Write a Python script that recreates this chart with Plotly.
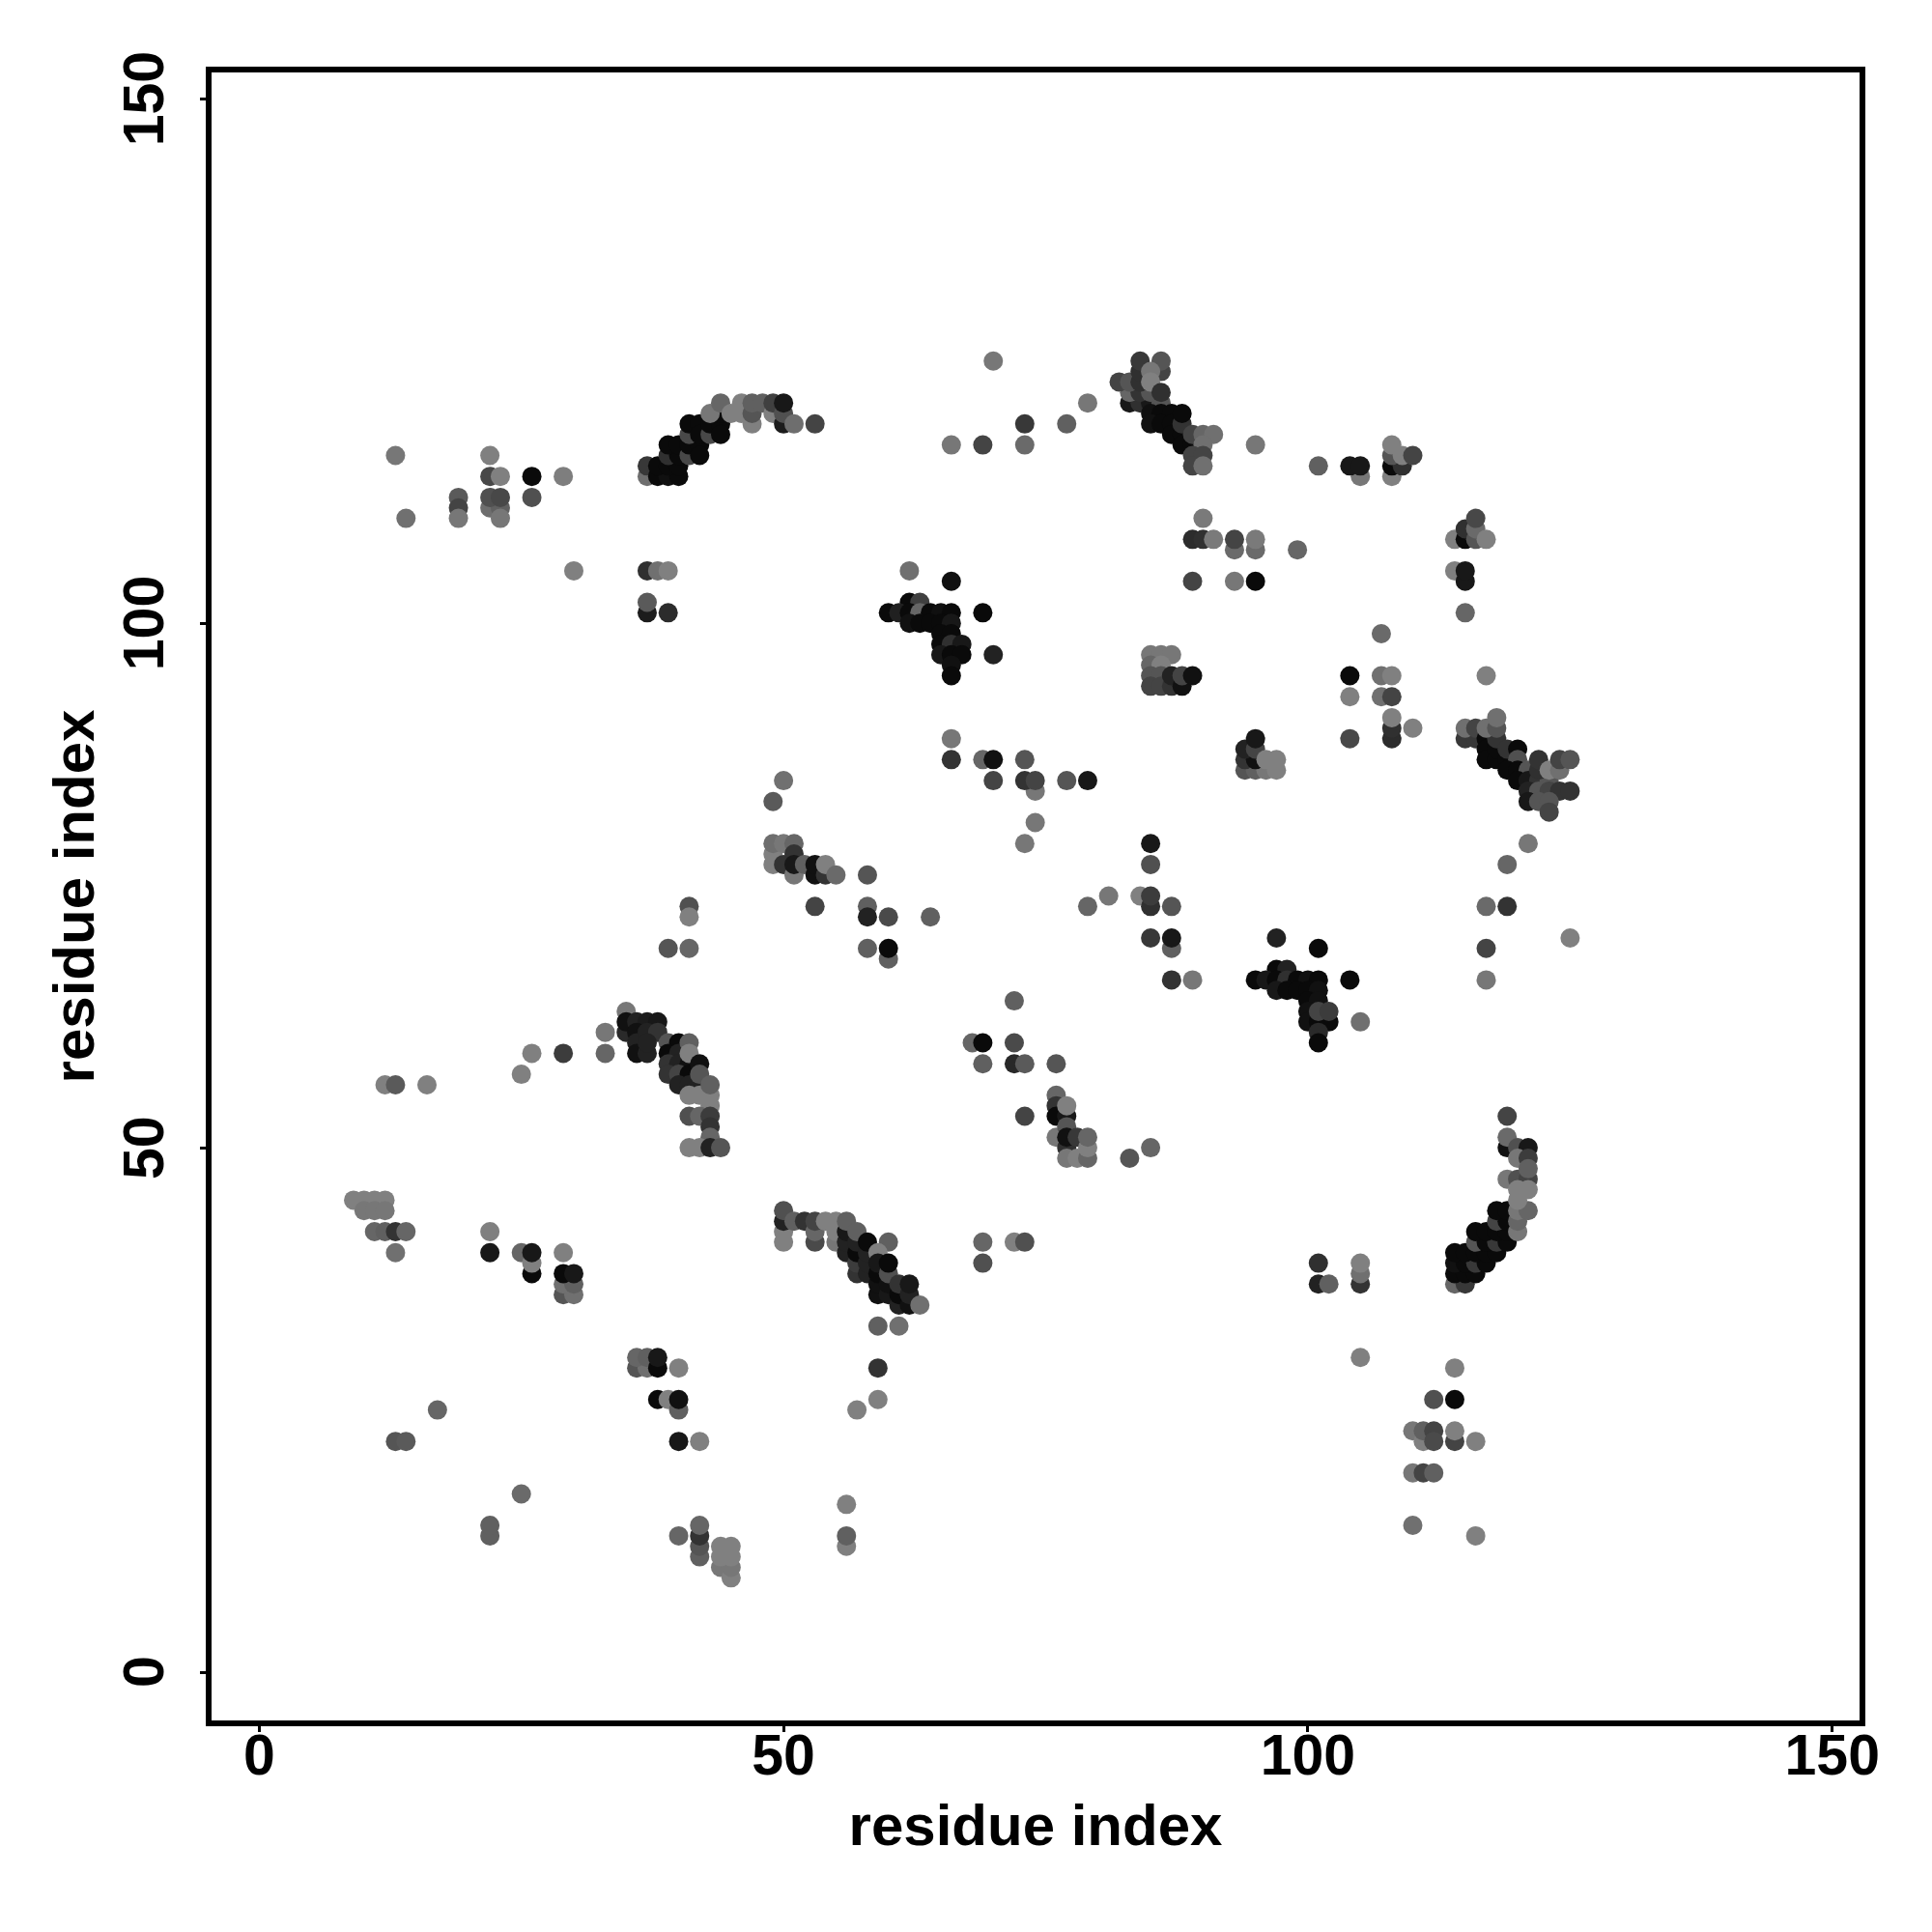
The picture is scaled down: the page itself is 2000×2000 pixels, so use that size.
import plotly.graph_objects as go

# Contacts: (residue i, residue j, grey level), in drawing order
contacts = [
(13,116,0x77),(14,110,0x70),(19,112,0x5a),(19,111,0x44),(19,110,0x77),(22,116,0x80),(22,114,0x48),(23,114,0x80),
(22,111,0x6e),(23,111,0x60),(23,110,0x77),(22,112,0x50),(23,112,0x48),(26,114,0x0a),(26,112,0x50),(29,114,0x7e),(30,105,0x80),
(37,105,0x30),(38,105,0x70),(39,105,0x80),(37,101,0x1c),(37,102,0x5a),(39,101,0x2c),
(37,114,0x6e),(37,115,0x38),(38,114,0x0a),(39,114,0x10),(40,114,0x0a),(38,115,0x0a),(39,115,0x0a),(40,115,0x0a),(39,116,0x30),(40,116,0x0a),
(39,117,0x0a),(40,117,0x0a),(41,116,0x48),(41,117,0x0a),(42,117,0x0a),(42,116,0x0a),(41,118,0x48),(41,119,0x0a),(42,119,0x0a),(42,118,0x0a),
(43,118,0x48),(43,119,0x0a),(44,119,0x0a),(44,118,0x0a),(44,120,0x0a),(43,120,0x77),(44,121,0x66),(45,120,0x80),(46,120,0x80),(46,121,0x80),
(47,119,0x80),(47,120,0x55),(47,121,0x60),(48,121,0x60),(49,120,0x80),(49,121,0x40),(50,119,0x1c),(50,120,0x50),(50,121,0x18),(51,119,0x6e),(53,119,0x44),
(70,125,0x77),(66,117,0x77),(69,117,0x44),(73,117,0x6a),(73,119,0x38),(77,119,0x60),(79,121,0x77),
(83,121,0x18),(84,121,0x30),(85,121,0x18),(86,121,0x55),(83,122,0x66),(84,122,0x33),(85,122,0x55),(82,123,0x44),(83,123,0x55),(84,123,0x30),(84,124,0x30),(84,125,0x38),
(86,124,0x44),(86,125,0x55),(85,124,0x77),(85,123,0x80),(86,122,0x30),
(85,120,0x10),(86,120,0x0a),(87,120,0x0a),(85,119,0x11),(86,119,0x0a),(87,119,0x0a),(87,118,0x0a),(88,118,0x0a),(88,119,0x33),(88,120,0x0a),(88,117,0x0a),(89,117,0x0a),
(89,118,0x44),(90,118,0x66),(91,118,0x70),(90,117,0x70),(89,116,0x44),(90,116,0x44),(89,115,0x44),(90,115,0x70),
(95,117,0x77),(101,115,0x60),(105,114,0x77),(104,115,0x18),(105,115,0x18),(108,114,0x80),(108,115,0x0a),(109,115,0x30),(108,116,0x55),(108,117,0x80),(109,116,0x80),(110,116,0x44),
(90,110,0x7a),(89,108,0x2c),(90,108,0x30),(91,108,0x7a),(93,107,0x6a),(95,107,0x6a),(93,108,0x44),(95,108,0x7a),(99,107,0x66),(89,104,0x44),(93,104,0x77),(95,104,0x0a),
(114,108,0x80),(115,108,0x0a),(115,109,0x30),(116,108,0x55),(116,109,0x6a),(116,110,0x48),(117,108,0x80),(114,105,0x80),(115,104,0x18),(115,105,0x18),(115,101,0x66),
(107,99,0x6a),(104,95,0x0a),(107,95,0x70),(108,95,0x80),(117,95,0x80),(104,93,0x80),(107,93,0x70),(108,93,0x44),(108,89,0x2c),(108,90,0x30),(108,91,0x80),(110,90,0x80),(104,89,0x48),
(62,105,0x70),(66,104,0x10),(62,102,0x0a),(63,102,0x40),(60,101,0x0a),(61,101,0x20),(62,101,0x0a),(63,101,0x66),(64,101,0x0a),(65,101,0x10),(66,101,0x0a),(69,101,0x0a),
(62,100,0x11),(63,100,0x0a),(64,100,0x0a),(65,100,0x0a),(66,100,0x18),(65,99,0x0a),(66,99,0x0a),(65,98,0x0a),(66,98,0x30),(67,98,0x18),(65,97,0x18),(66,97,0x0a),(67,97,0x0a),(70,97,0x22),(66,96,0x11),(66,95,0x0a),
(66,89,0x77),(66,87,0x33),(69,87,0x66),(70,87,0x11),(73,87,0x55),
(85,97,0x77),(86,97,0x77),(87,97,0x77),(85,96,0x66),(86,96,0x80),(85,95,0x55),(86,95,0x55),(85,94,0x44),(86,94,0x44),(87,94,0x33),(87,95,0x22),(88,94,0x11),(88,95,0x44),(89,95,0x11),
(94,86,0x55),(95,86,0x60),(96,86,0x77),(97,86,0x80),(94,87,0x33),(95,87,0x11),(94,88,0x22),(95,88,0x44),(95,89,0x18),(96,87,0x80),(97,87,0x80),
(115,89,0x38),(116,89,0x38),(115,90,0x70),(116,90,0x44),(117,89,0x0a),(117,88,0x0a),(117,87,0x0a),(118,87,0x0a),(118,88,0x0a),(118,89,0x33),(117,90,0x70),(118,90,0x55),(118,91,0x70),
(119,87,0x0a),(119,88,0x33),(120,88,0x0a),(120,87,0x50),(119,86,0x0a),(120,86,0x0a),(121,86,0x55),(120,85,0x0a),(121,85,0x18),(122,85,0x33),(123,85,0x55),(121,84,0x22),(122,84,0x55),(123,84,0x44),(124,84,0x33),(125,84,0x33),
(121,83,0x18),(122,83,0x55),(123,83,0x55),(123,82,0x44),(122,86,0x30),(122,87,0x33),(123,86,0x80),(124,86,0x70),(124,87,0x44),(125,87,0x55),
(121,79,0x77),(119,77,0x66),(117,73,0x6a),(119,73,0x33),(117,69,0x44),(125,70,0x80),(117,66,0x77),
(41,73,0x50),(41,72,0x80),(39,69,0x55),(41,69,0x66),(12,56,0x80),(13,56,0x5a),(16,56,0x80),(25,57,0x80),(26,59,0x80),(29,59,0x3c),(33,61,0x77),(33,59,0x66),(35,63,0x77),
(35,61,0x2a),(35,62,0x11),(36,62,0x22),(37,62,0x1c),(38,62,0x18),(36,61,0x11),(36,60,0x22),(37,61,0x22),(38,61,0x33),(36,59,0x11),(37,59,0x22),(37,60,0x22),
(39,60,0x55),(40,60,0x0a),(39,59,0x0a),(40,59,0x22),(39,58,0x33),(40,58,0x22),(41,58,0x11),(39,57,0x33),(40,57,0x44),(41,57,0x0a),(40,56,0x22),(41,56,0x22),(42,56,0x22),(41,60,0x60),(41,59,0x80),(42,58,0x11),
(41,55,0x80),(42,55,0x80),(43,54,0x80),(43,55,0x80),(42,57,0x55),(43,56,0x60),(41,53,0x50),(42,53,0x66),(43,53,0x3c),(43,52,0x33),(43,51,0x66),(41,50,0x80),(42,50,0x80),(43,50,0x22),(44,50,0x55),
(50,85,0x70),(49,83,0x5a),(70,85,0x44),(74,84,0x77),(73,85,0x33),(74,85,0x44),(77,85,0x55),(79,85,0x18),(74,81,0x77),(73,79,0x77),
(49,77,0x80),(49,78,0x80),(49,79,0x6e),(50,79,0x77),(51,79,0x66),(51,78,0x33),(50,77,0x33),(51,76,0x77),(51,77,0x18),(52,77,0x60),(53,76,0x11),(53,77,0x11),(54,76,0x33),(54,77,0x80),(55,76,0x6a),(58,76,0x55),
(53,73,0x44),(58,73,0x60),(58,72,0x22),(60,72,0x4a),(64,72,0x60),(58,69,0x60),(60,68,0x60),(60,69,0x0a),
(72,64,0x60),(68,60,0x66),(69,60,0x0a),(72,60,0x4a),(69,58,0x60),(72,58,0x28),(73,58,0x5a),(76,58,0x55),
(73,53,0x44),(76,55,0x66),(76,54,0x33),(76,53,0x0a),(76,51,0x77),(77,53,0x18),(77,54,0x80),(77,52,0x55),(77,50,0x30),(77,51,0x11),(78,51,0x38),(77,49,0x77),(78,49,0x80),(79,49,0x66),(79,50,0x80),(79,51,0x66),(83,49,0x55),(85,50,0x66),
(79,73,0x66),(81,74,0x77),(84,74,0x80),(85,73,0x30),(85,74,0x3c),(87,73,0x55),(85,79,0x18),(85,77,0x50),(85,70,0x38),(87,69,0x60),(87,70,0x18),(87,66,0x33),(89,66,0x77),
(97,70,0x22),(101,69,0x0a),(97,67,0x0a),(98,67,0x22),(95,66,0x0a),(96,66,0x18),(97,66,0x0a),(98,66,0x30),(99,66,0x0a),(100,66,0x11),(101,66,0x0a),(104,66,0x0a),
(97,65,0x18),(98,65,0x0a),(99,65,0x0a),(100,65,0x0a),(101,65,0x11),(100,64,0x0a),(101,64,0x11),(100,63,0x11),(100,62,0x11),(101,62,0x0a),(102,62,0x0a),(101,63,0x44),(102,63,0x3c),(101,61,0x2a),(101,60,0x0a),(105,62,0x70),
(119,53,0x44),(119,50,0x11),(119,51,0x6a),(120,50,0x50),(121,50,0x18),(120,49,0x77),(121,49,0x3c),(119,47,0x77),(120,47,0x50),(121,47,0x44),(121,48,0x60),
(101,39,0x30),(101,37,0x22),(102,37,0x60),(105,37,0x33),(105,38,0x70),(105,39,0x80),(105,30,0x80),
(114,37,0x66),(115,37,0x38),(114,38,0x0a),(115,38,0x0a),(116,38,0x0a),(114,39,0x11),(115,39,0x0a),(116,39,0x38),(117,39,0x0a),(114,40,0x0a),(115,40,0x0a),(116,40,0x0a),(117,40,0x0a),(118,40,0x0a),
(116,41,0x55),(117,41,0x0a),(118,41,0x38),(119,41,0x0a),(116,42,0x0a),(117,42,0x0a),(118,42,0x0a),(119,42,0x0a),(118,43,0x44),(119,43,0x0a),(118,44,0x0a),(119,44,0x0a),(120,42,0x77),(120,43,0x66),(120,44,0x77),(121,44,0x66),(120,45,0x80),(120,46,0x80),(121,46,0x80),
(114,29,0x80),(112,26,0x50),(114,26,0x0a),(110,23,0x77),(111,22,0x80),(111,23,0x60),(112,23,0x44),(112,22,0x4a),(114,22,0x44),(114,23,0x80),(116,22,0x80),(110,19,0x77),(111,19,0x44),(112,19,0x60),(110,14,0x70),(116,13,0x80),
(9,45,0x80),(10,45,0x80),(11,45,0x80),(12,45,0x80),(10,44,0x77),(11,44,0x77),(12,44,0x77),(11,42,0x66),(12,42,0x60),(13,42,0x33),(14,42,0x66),(13,40,0x70),
(22,42,0x80),(22,40,0x18),(25,40,0x66),(26,38,0x0a),(26,39,0x80),(26,40,0x18),(29,40,0x80),(29,36,0x55),(30,36,0x70),(29,37,0x70),(30,37,0x60),(29,38,0x0a),(30,38,0x18),
(36,29,0x55),(37,29,0x70),(36,30,0x66),(37,30,0x60),(38,29,0x0a),(38,30,0x18),(40,29,0x80),(38,26,0x0a),(39,26,0x80),(40,25,0x60),(40,26,0x11),(40,22,0x18),(42,22,0x80),
(13,22,0x55),(14,22,0x5a),(17,25,0x66),(25,17,0x6a),(22,13,0x60),(22,14,0x60),(40,13,0x66),(42,11,0x60),(42,12,0x55),(42,13,0x33),(42,14,0x66),(44,10,0x77),(45,9,0x80),(45,10,0x77),(44,11,0x80),(45,11,0x80),(44,12,0x80),(45,12,0x80),
(50,41,0x80),(50,42,0x80),(50,43,0x22),(50,44,0x50),(51,43,0x60),(52,43,0x33),(53,41,0x4a),(53,42,0x66),(53,43,0x44),(55,41,0x77),(55,42,0x80),(54,43,0x80),(55,43,0x80),
(56,40,0x22),(56,41,0x22),(56,42,0x18),(56,43,0x60),(57,38,0x33),(57,39,0x3c),(57,40,0x0a),(57,41,0x22),(57,42,0x60),(58,38,0x22),(58,39,0x22),(58,40,0x22),(58,41,0x0a),(60,41,0x60),(59,40,0x80),
(59,36,0x11),(59,37,0x11),(59,38,0x0a),(59,39,0x18),(60,36,0x18),(60,37,0x11),(60,38,0x50),(60,39,0x0a),(61,35,0x22),(61,36,0x0a),(61,37,0x33),(62,35,0x11),(62,36,0x22),(62,37,0x18),(63,35,0x70),
(59,33,0x60),(61,33,0x70),(59,29,0x33),(59,26,0x80),(57,25,0x80),(56,16,0x80),(56,12,0x80),(56,13,0x60),(69,39,0x50),(69,41,0x66),(72,41,0x80),(73,41,0x50),
]

residue_i = [c[0] for c in contacts]
residue_j = [c[1] for c in contacts]
grey_level = [c[2] for c in contacts]
tick_values = [0, 50, 100, 150]
axis_title = "residue index"

colors = [f"rgb({g},{g},{g})" for g in grey_level]

fig = go.Figure(go.Scatter(
    x=residue_i, y=residue_j, mode="markers",
    marker=dict(size=20, color=colors, line=dict(width=0)),
    hoverinfo="skip",
))
FONT = "Liberation Sans"
title_font = dict(family=FONT, size=60, color="black", weight="bold")
tick_font = dict(family=FONT, size=59, color="black", weight="bold")
common = dict(
    tickvals=tick_values, ticks="outside", ticklen=6, tickwidth=3, tickcolor="black",
    showline=True, linewidth=6, linecolor="black", mirror=True,
    showgrid=False, zeroline=False,
)
fig.update_xaxes(range=[-4.54, 152.6], ticklabelstandoff=-27, tickfont=tick_font,
                 title=dict(text=axis_title, standoff=21, font=title_font), **common)
# Rotated y tick labels are placed as annotations so they centre exactly on their ticks
fig.update_yaxes(range=[-4.6, 152.51], showticklabels=False,
                 title=dict(text=axis_title, standoff=92, font=title_font), **common)
fig.update_layout(
    width=2000, height=2000, autosize=False,
    plot_bgcolor="white", paper_bgcolor="white", showlegend=False,
    margin=dict(l=211, r=83, t=67, b=227, autoexpand=False),
    annotations=[
        dict(text=str(v), xref="paper", x=0, yref="y", y=v, xanchor="center", yanchor="middle",
             xshift=-70, textangle=-90, showarrow=False, font=tick_font)
        for v in tick_values
    ],
)
fig.write_html("out.html", config=dict(displayModeBar=False))
